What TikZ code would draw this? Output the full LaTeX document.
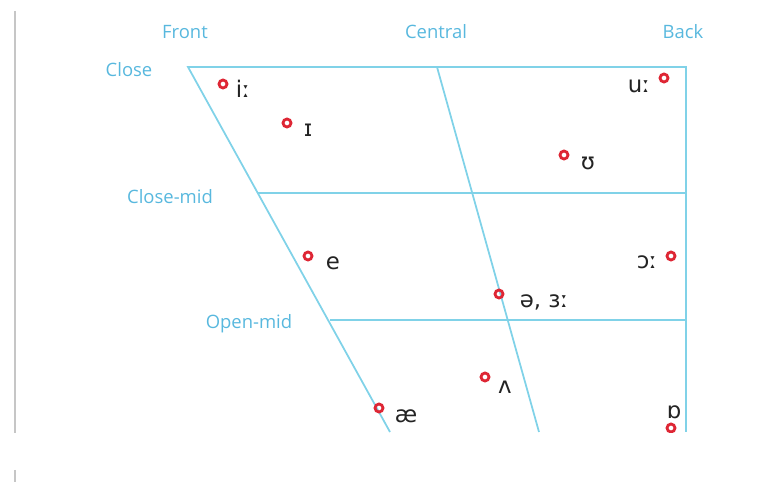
\documentclass[tikz,border=0pt]{standalone}
\usepackage{fontspec}
\setsansfont{Open Sans}
\newfontfamily\ipafont{DejaVu Sans}
\usetikzlibrary{positioning}
\definecolor{lineblue}{RGB}{128,210,232}
\definecolor{labelblue}{RGB}{88,184,222}
\definecolor{dotred}{RGB}{222,38,52}
\definecolor{ipagray}{RGB}{35,35,35}

\tikzset{
  axis/.style={text=labelblue, font=\sffamily\fontsize{10.5}{12}\selectfont, inner sep=0pt},
  vdot/.style={circle, draw=dotred, line width=1.6pt, minimum size=0.16cm, inner sep=0pt},
  vlab/.style={text=ipagray, font=\ipafont\fontsize{13}{15}\selectfont, inner sep=0pt},
  chart/.style={draw=lineblue, line width=1pt}
}

\begin{document}
\begin{tikzpicture}[x=0.02cm, y=-0.02cm]
\useasboundingbox (0,0) rectangle (781,482);
% Trapecio de vocales (coordenadas en pixeles)
\coordinate (CF) at (188,67);
\coordinate (CC) at (437,67);
\coordinate (CB) at (686,67);
\coordinate (CMF) at (258,193);
\coordinate (CMB) at (686,193);
\coordinate (OMF) at (330,320);
\coordinate (OMB) at (686,320);
\coordinate (BF) at (390,432);
\coordinate (BC) at (539,432);
\coordinate (BB) at (686,432);

\draw[gray!45, line width=1.6pt] (15,11) -- (15,433);
\draw[gray!45, line width=1.6pt] (15,470) -- (15,482);

\draw[chart] (BF) -- (CF) -- (CB) -- (BB);
\draw[chart] (CC) -- (BC);
\draw[chart] (CMF) -- (CMB);
\draw[chart] (OMF) -- (OMB);

\node[axis] (front) at (185,32) {Front};
\node[axis] (central) at (436,32) {Central};
\node[axis] (back) at (683,32) {Back};
\node[axis] (close) at (129,70) {Close};
\node[axis] (closemid) at (170,197) {Close-mid};
\node[axis] (openmid) at (249,324) {Open-mid};

\node[vdot] (ii) at (223,84) {};
\node[vlab] (ii-l) at (243,89) {iː};
\node[vdot] (ih) at (287,123) {};
\node[vlab] (ih-l) at (308,130) {ɪ};
\node[vdot] (uu) at (664,78) {};
\node[vlab] (uu-l) at (639,86) {uː};
\node[vdot] (uh) at (564,155) {};
\node[vlab] (uh-l) at (588,163) {ʊ};
\node[vdot] (e) at (308,256) {};
\node[vlab] (e-l) at (333,263) {e};
\node[vdot] (oo) at (671,256) {};
\node[vlab] (oo-l) at (647,262) {ɔː};
\node[vdot] (schwa) at (499,294) {};
\node[vlab] (schwa-l) at (544,302) {ə, ɜː};
\node[vdot] (wedge) at (485,377) {};
\node[vlab] (wedge-l) at (505,387) {ʌ};
\node[vdot] (ae) at (379,408) {};
\node[vlab] (ae-l) at (406,416) {æ};
\node[vdot] (o) at (671,428) {};
\node[vlab] (o-l) at (674,412) {ɒ};

% parte inferior recortada
\fill[white] (0,433) rectangle (781,469);
\fill[white] (20,469) rectangle (781,482);
\end{tikzpicture}
\end{document}
